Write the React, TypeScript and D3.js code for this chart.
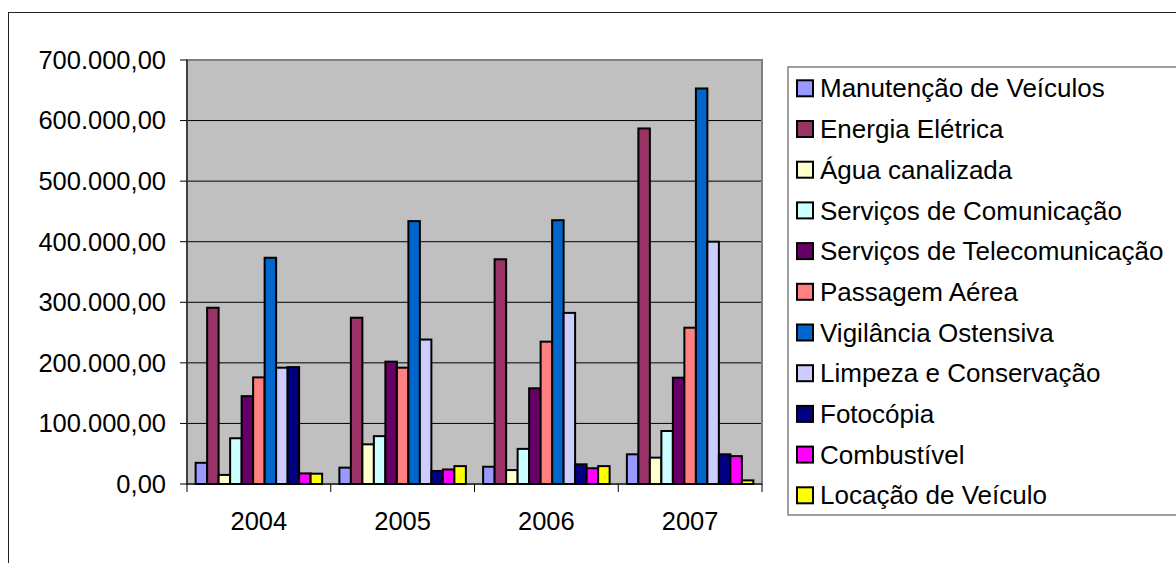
import React from "react";
import * as d3 from "d3";

const years = ["2004", "2005", "2006", "2007"];
const seriesNames = [
  "Manutenção de Veículos",
  "Energia Elétrica",
  "Água canalizada",
  "Serviços de Comunicação",
  "Serviços de Telecomunicação",
  "Passagem Aérea",
  "Vigilância Ostensiva",
  "Limpeza e Conservação",
  "Fotocópia",
  "Combustível",
  "Locação de Veículo",
];
const seriesColors = [
  "#9999FF", "#993366", "#FFFFCC", "#CCFFFF", "#660066", "#FF8080",
  "#0066CC", "#CCCCFF", "#000080", "#FF00FF", "#FFFF00",
];
const manutencao = [35000, 27000, 28500, 49000];
const energia = [291000, 274500, 371000, 587000];
const agua = [15000, 65500, 23000, 43500];
const comunicacao = [75500, 79000, 58000, 87500];
const telecom = [145000, 202000, 158000, 175500];
const passagem = [176000, 192000, 235000, 258000];
const vigilancia = [373500, 434000, 435500, 653000];
const limpeza = [192000, 238500, 282500, 400000];
const fotocopia = [193000, 21500, 32500, 49000];
const combustivel = [17500, 24000, 26000, 46000];
const locacao = [17000, 29500, 29500, 6000];
const seriesValues = [
  manutencao, energia, agua, comunicacao, telecom, passagem,
  vigilancia, limpeza, fotocopia, combustivel, locacao,
];
const yTicks = [0, 100000, 200000, 300000, 400000, 500000, 600000, 700000];

const fmt = (v: number) => {
  const s = Math.round(v).toString().replace(/\B(?=(\d{3})+(?!\d))/g, ".");
  return s + ",00";
};

export default function App() {
  const W = 1176, H = 563;
  const left = 187, right = 762, top = 60, bottom = 484;
  const font = "'Liberation Sans', Arial, sans-serif";
  const x0 = d3.scaleBand().domain(years).range([left, right]).paddingInner(0).paddingOuter(0);
  const cw = x0.bandwidth();
  const barW = cw / (seriesNames.length + 1.5);
  const pad = (cw - barW * seriesNames.length) / 2;
  const y = d3.scaleLinear().domain([0, 700000]).range([bottom, top]);
  const legX = 788, legY = 67, legRow = 40.7, legFirst = 88.3;

  return (
    <svg width={W} height={H} style={{ position: "absolute", left: 0, top: 0, background: "#fff" }} fontFamily={font}>
      <rect x={8.5} y={12.5} width={1300} height={700} fill="#fff" stroke="#222" strokeWidth={1} />
      <rect x={left} y={top} width={right - left} height={bottom - top} fill="#C0C0C0" />
      {yTicks.slice(1).map((t) => (
        <line key={"g" + t} x1={left} x2={right} y1={y(t)} y2={y(t)} stroke="#000" strokeWidth={1} />
      ))}
      <rect x={left} y={top} width={right - left} height={bottom - top} fill="none" stroke="#808080" strokeWidth={2} />
      {years.map((yr, i) =>
        seriesValues.map((vals, s) => {
          const bx = (x0(yr) as number) + pad + s * barW;
          return (
            <rect key={yr + s} x={bx} y={y(vals[i])} width={barW} height={bottom - y(vals[i])}
              fill={seriesColors[s]} stroke="#000" strokeWidth={2} />
          );
        })
      )}
      <line x1={left} x2={left} y1={top} y2={bottom} stroke="#000" strokeWidth={1} />
      <line x1={left} x2={right} y1={bottom} y2={bottom} stroke="#000" strokeWidth={1} />
      {yTicks.map((t) => (
        <g key={"t" + t}>
          <line x1={left - 7} x2={left} y1={y(t)} y2={y(t)} stroke="#000" />
          <text x={166} y={y(t)} dy="0.35em" textAnchor="end" fontSize={25.5} fill="#000">{fmt(t)}</text>
        </g>
      ))}
      {[...years.map((yr) => x0(yr) as number), right].map((xx, i) => (
        <line key={"xt" + i} x1={xx} x2={xx} y1={bottom} y2={bottom + 8} stroke="#000" />
      ))}
      {years.map((yr) => (
        <text key={"xl" + yr} x={(x0(yr) as number) + cw / 2} y={530} textAnchor="middle" fontSize={25.5} fill="#000">{yr}</text>
      ))}
      <rect x={legX} y={legY} width={500} height={515 - legY} fill="#fff" stroke="#808080" strokeWidth={1.5} />
      {seriesNames.map((n, s) => {
        const cy = legFirst + s * legRow;
        return (
          <g key={"l" + s}>
            <rect x={797} y={cy - 8} width={16} height={16} fill={seriesColors[s]} stroke="#000" strokeWidth={2} />
            <text x={820} y={cy} dy="0.35em" fontSize={26} fill="#000">{n}</text>
          </g>
        );
      })}
    </svg>
  );
}
